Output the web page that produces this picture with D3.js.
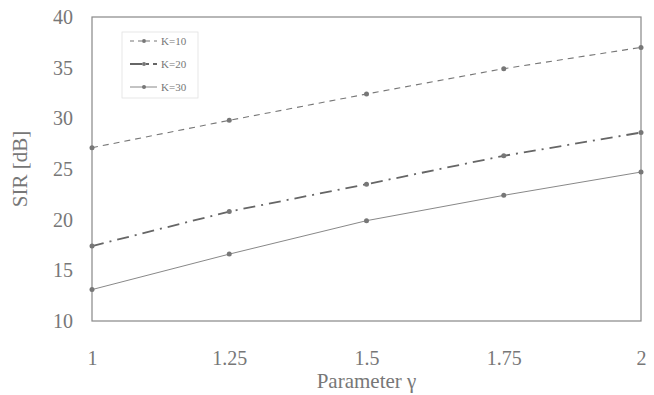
<!DOCTYPE html>
<html>
<head>
<meta charset="utf-8">
<script src="https://cdn.jsdelivr.net/npm/d3@7"></script>
<style>
  body { margin: 0; background: #fff; }
  text { font-family: "Liberation Serif", "DejaVu Serif", serif; fill: #777; }
</style>
</head>
<body>
<script>
// data
var gammas = [1, 1.25, 1.5, 1.75, 2];
var k10 = [27.1, 29.8, 32.4, 34.9, 37.0];
var k20 = [17.4, 20.8, 23.5, 26.3, 28.6];
var k30 = [13.1, 16.6, 19.9, 22.4, 24.7];
var xTicks = [1, 1.25, 1.5, 1.75, 2];
var yTicks = [10, 15, 20, 25, 30, 35, 40];
var seriesNames = ["K=10", "K=20", "K=30"];

var width = 654, height = 395;
var m = { left: 92, right: 13, top: 17, bottom: 74 };

var svg = d3.select('body').append('svg').attr('width', width).attr('height', height);

var xScale = d3.scaleLinear().domain([1, 2]).range([m.left, width - m.right]);
var yScale = d3.scaleLinear().domain([10, 40]).range([height - m.bottom, m.top]);

// frame
svg.append('rect')
    .attr('x', xScale(1)).attr('y', yScale(40))
    .attr('width', xScale(2) - xScale(1)).attr('height', yScale(10) - yScale(40))
    .attr('fill', 'none').attr('stroke', '#888').attr('stroke-width', 1.2);

// axes (labels only, the frame is the axis line)
var yAxis = d3.axisLeft(yScale).tickValues(yTicks).tickSize(0).tickPadding(19);
svg.append('g').attr('transform', 'translate(' + xScale(1) + ',0)').call(yAxis)
    .call(function(g) { g.select('.domain').remove(); })
    .selectAll('text').style('font-size', '20px').attr('fill', '#777');

var xAxis = d3.axisBottom(xScale).tickValues(xTicks).tickSize(0).tickPadding(30)
    .tickFormat(function(d) { return String(d); });
svg.append('g').attr('transform', 'translate(0,' + yScale(10) + ')').call(xAxis)
    .call(function(g) { g.select('.domain').remove(); })
    .selectAll('text').style('font-size', '20px').attr('fill', '#777');

// axis titles
svg.append('text')
    .attr('transform', 'translate(27,' + ((yScale(10) + yScale(40)) / 2) + ') rotate(-90)')
    .attr('text-anchor', 'middle')
    .style('font-size', '21px')
    .text('SIR [dB]');
svg.append('text')
    .attr('x', (xScale(1) + xScale(2)) / 2).attr('y', 388)
    .attr('text-anchor', 'middle')
    .style('font-size', '21px')
    .text('Parameter γ');

var styles = [
    { data: k10, dash: '6,5', width: 1.1, color: '#777' },
    { data: k20, dash: '12,6,2,6', width: 1.8, color: '#666' },
    { data: k30, dash: null, width: 1, color: '#888' }
];

var line = d3.line()
    .x(function(d, i) { return xScale(gammas[i]); })
    .y(function(d) { return yScale(d); });

styles.forEach(function(s) {
    svg.append('path')
        .attr('d', line(s.data))
        .attr('fill', 'none')
        .attr('stroke', s.color)
        .attr('stroke-width', s.width)
        .attr('stroke-dasharray', s.dash);
    svg.selectAll(null).data(s.data).enter().append('circle')
        .attr('cx', function(d, i) { return xScale(gammas[i]); })
        .attr('cy', function(d) { return yScale(d); })
        .attr('r', 2.5)
        .attr('fill', '#777');
});

// legend
var lg = svg.append('g');
lg.append('rect').attr('x', 122).attr('y', 32).attr('width', 76).attr('height', 66)
    .attr('fill', 'none').attr('stroke', '#e2e2e2').attr('stroke-width', 0.8);
seriesNames.forEach(function(name, i) {
    var y = 41 + i * 23;
    lg.append('line').attr('x1', 130).attr('x2', 157).attr('y1', y).attr('y2', y)
        .attr('stroke', styles[i].color).attr('stroke-width', styles[i].width)
        .attr('stroke-dasharray', i === 0 ? '4,4' : (i === 1 ? '12,4,3,4' : null));
    lg.append('circle').attr('cx', 144).attr('cy', y).attr('r', 2).attr('fill', '#777');
    lg.append('text').attr('x', 161).attr('y', y + 4).style('font-size', '11px').text(name);
});
</script>
</body>
</html>
